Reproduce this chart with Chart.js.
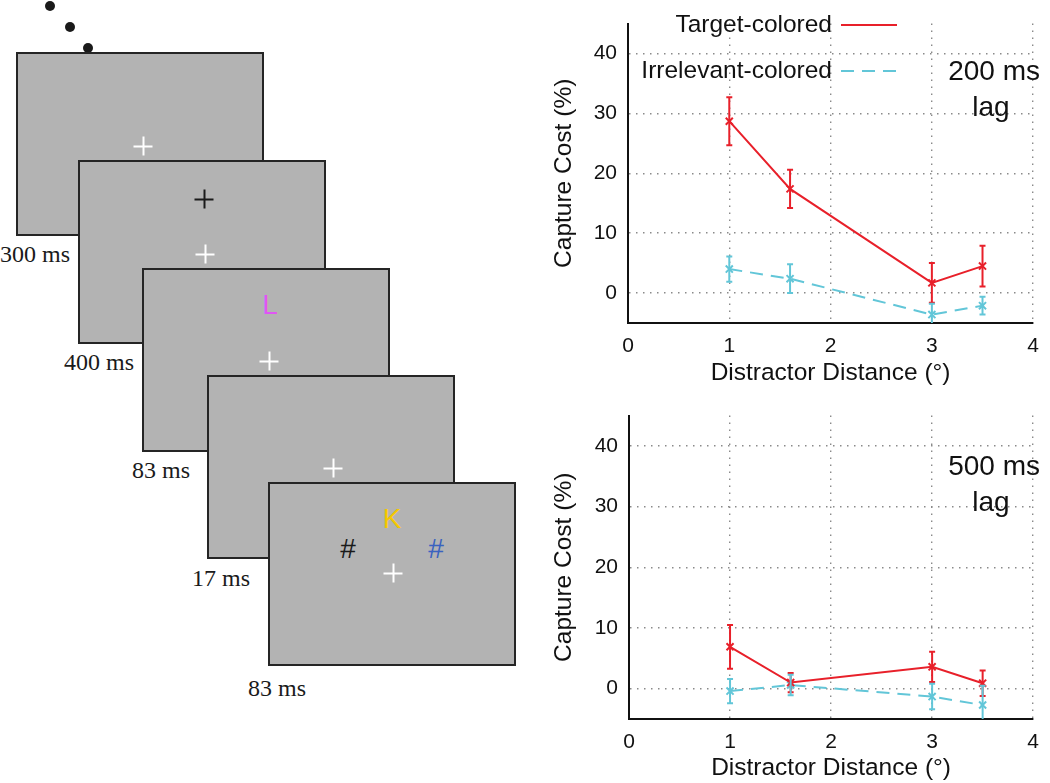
<!DOCTYPE html>
<html>
<head>
<meta charset="utf-8">
<script src="https://cdn.jsdelivr.net/npm/chart.js@4.4.1/dist/chart.umd.min.js"></script>
<style>
  html, body { margin:0; padding:0; background:#fff; }
  body { width:1050px; height:783px; position:relative; overflow:hidden; font-family:'Liberation Sans', Arial, sans-serif; }
  .scr { position:absolute; width:248px; height:184px; box-sizing:border-box; border:2px solid #252525; background:#b3b3b3; }
  .dot { position:absolute; width:10px; height:10px; border-radius:50%; background:#1a1a1a; transform:translate(-50%,-50%); }
  .lbl { position:absolute; font-family:'Liberation Serif', 'Times New Roman', serif; font-size:24px; line-height:24px; color:#1a1a1a; white-space:nowrap; transform:translate(0,-50%); }
  .sym { position:absolute; font-family:'Liberation Sans', Arial, sans-serif; font-size:28px; line-height:28px; transform:translate(-50%,-50%); }
  .cross { position:absolute; width:19px; height:19px; transform:translate(-50%,-50%); }
  .cross::before { content:''; position:absolute; left:0; top:8.5px; width:19px; height:2px; background:var(--c); }
  .cross::after { content:''; position:absolute; top:0; left:8.5px; width:2px; height:19px; background:var(--c); }
  canvas { position:absolute; }
</style>
</head>
<body>
<div id="schematic"></div>
<div style="position:absolute;left:540px;top:0;width:510px;height:392px;"><canvas id="c1"></canvas></div>
<div style="position:absolute;left:540px;top:392px;width:510px;height:391px;"><canvas id="c2"></canvas></div>
<script>
// ---- data ----
const distances = [1, 1.6, 3, 3.5];
const target200 = [28.7, 17.4, 1.7, 4.5];
const target200Err = [4.0, 3.2, 3.3, 3.4];
const irrel200 = [4.0, 2.4, -3.6, -2.1];
const irrel200Err = [2.1, 2.4, 1.8, 1.5];
const target500 = [6.9, 1.0, 3.6, 0.9];
const target500Err = [3.6, 1.6, 2.5, 2.1];
const irrel500 = [-0.4, 0.6, -1.3, -2.7];
const irrel500Err = [2.0, 1.7, 2.1, 3.2];
const xTicks = [0, 1, 2, 3, 4];
const yTicks = [0, 10, 20, 30, 40];
const seriesNames = ['Target-colored', 'Irrelevant-colored'];
const lagLabels = [['200 ms', 'lag'], ['500 ms', 'lag']];
const timeLabels = ['300 ms', '400 ms', '83 ms', '17 ms', '83 ms'];

// ---- schematic (left panel) ----
(function(){
  const s = document.getElementById('schematic');
  const rects = [[16,52],[78,160],[142,268],[207,375],[268,482]];
  const dots = [[50,6],[70,27],[88,48]];
  const lblPos = [[0,254],[64,362],[132,470],[192,578],[248,688]];
  let h = '';
  dots.forEach(d => h += `<div class="dot" style="left:${d[0]}px;top:${d[1]}px"></div>`);
  rects.forEach((r,i) => {
    h += `<div class="scr" style="left:${r[0]}px;top:${r[1]}px"></div>`;
  });
  h += `<div class="cross" style="--c:#fff;left:143px;top:146px"></div>`;
  h += `<div class="cross" style="--c:#1a1a1a;left:204px;top:199px"></div>`;
  h += `<div class="cross" style="--c:#fff;left:205px;top:254px"></div>`;
  h += `<div class="sym" style="color:#e055f5;left:270px;top:305px">L</div>`;
  h += `<div class="cross" style="--c:#fff;left:269px;top:361px"></div>`;
  h += `<div class="cross" style="--c:#fff;left:333px;top:468px"></div>`;
  h += `<div class="sym" style="color:#f5c800;left:392px;top:519px">K</div>`;
  h += `<div class="sym" style="color:#1a1a1a;left:348px;top:549px">#</div>`;
  h += `<div class="sym" style="color:#3a62c0;left:436px;top:549px">#</div>`;
  h += `<div class="cross" style="--c:#fff;left:393px;top:573px"></div>`;
  timeLabels.forEach((t,i) => h += `<div class="lbl" style="left:${lblPos[i][0]}px;top:${lblPos[i][1]}px">${t}</div>`);
  s.innerHTML = h;
})();

// ---- charts ----
const RED = '#e8202a';
const CYAN = '#62c6d8';
const FONT = "'Liberation Sans', Arial, Helvetica, sans-serif";

const errorBarPlugin = {
  id: 'errorBars',
  afterDatasetsDraw(chart) {
    const {ctx, chartArea, scales: {x, y}} = chart;
    ctx.save();
    ctx.beginPath();
    ctx.rect(chartArea.left, chartArea.top - 2, chartArea.right - chartArea.left, chartArea.bottom - chartArea.top + 2);
    ctx.clip();
    chart.data.datasets.forEach(ds => {
      if (!ds.errorBars) return;
      ctx.strokeStyle = ds.borderColor;
      ctx.lineWidth = 2;
      ctx.setLineDash([]);
      ds.data.forEach((p, i) => {
        const px = x.getPixelForValue(p.x);
        const yt = y.getPixelForValue(p.y + ds.errorBars[i]);
        const yb = y.getPixelForValue(p.y - ds.errorBars[i]);
        ctx.beginPath();
        ctx.moveTo(px, yt); ctx.lineTo(px, yb);
        ctx.moveTo(px - 3, yt); ctx.lineTo(px + 3, yt);
        ctx.moveTo(px - 3, yb); ctx.lineTo(px + 3, yb);
        ctx.stroke();
      });
    });
    ctx.restore();
  }
};

const textPlugin = {
  id: 'extraText',
  afterDraw(chart, args, opts) {
    const ctx = chart.ctx;
    ctx.save();
    ctx.fillStyle = '#111';
    ctx.textBaseline = 'middle';
    if (opts.lag) {
      ctx.font = '28px ' + FONT;
      ctx.textAlign = 'right';
      ctx.fillText(opts.lag[0], opts.lagX, opts.lagY);
      ctx.textAlign = 'center';
      ctx.fillText(opts.lag[1], opts.lagX2, opts.lagY + 36);
    }
    if (opts.legend) {
      ctx.font = '24.5px ' + FONT;
      chart.data.datasets.forEach((ds, i) => {
        const ly = opts.legendY[i];
        ctx.textAlign = 'right';
        ctx.fillStyle = '#111';
        ctx.fillText(ds.label, opts.legendTextX, ly);
        ctx.strokeStyle = ds.borderColor;
        ctx.lineWidth = 2;
        ctx.setLineDash(ds.borderDash || []);
        ctx.beginPath();
        ctx.moveTo(opts.legendLineX[0], ly);
        ctx.lineTo(opts.legendLineX[1], ly);
        ctx.stroke();
      });
    }
    ctx.restore();
  }
};

function makeChart(id, tData, tErr, iData, iErr, cfg) {
  const pts = (arr) => distances.map((d, i) => ({x: d, y: arr[i]}));
  return new Chart(document.getElementById(id), {
    type: 'line',
    data: {
      datasets: [
        { label: seriesNames[0], data: pts(tData), errorBars: tErr, borderColor: RED, backgroundColor: RED,
          borderWidth: 2, pointStyle: 'crossRot', pointRadius: 5, pointBorderWidth: 2, pointBorderColor: RED, tension: 0 },
        { label: seriesNames[1], data: pts(iData), errorBars: iErr, borderColor: CYAN, backgroundColor: CYAN,
          borderWidth: 2, borderDash: [13, 8], pointStyle: 'crossRot', pointRadius: 5, pointBorderWidth: 2, pointBorderColor: CYAN, tension: 0 }
      ]
    },
    options: {
      responsive: true, maintainAspectRatio: false, animation: false,
      layout: { padding: { left: 0, right: cfg.padRight, top: cfg.padTop, bottom: 0 } },
      plugins: { legend: { display: false }, tooltip: { enabled: false },
        extraText: cfg.text },
      scales: {
        x: {
          type: 'linear', min: 0, max: 4,
          afterBuildTicks: s => { s.ticks = xTicks.map(v => ({value: v})); },
          afterFit: s => { s.height = cfg.xHeight; },
          ticks: { font: { family: FONT, size: 21 }, color: '#111', padding: 11 },
          grid: { drawTicks: false, color: c => c.tick && c.tick.value === 0 ? 'rgba(0,0,0,0)' : '#8a8a8a', lineWidth: 1.4 },
          border: { display: true, color: '#111', width: 2, dash: [1.5, 5.5] },
          title: { display: true, text: 'Distractor Distance (°)', font: { family: FONT, size: 24.5 }, color: '#111', padding: { top: 0, bottom: cfg.xTitlePad } }
        },
        y: {
          type: 'linear', min: -5, max: 45,
          afterBuildTicks: s => { s.ticks = yTicks.map(v => ({value: v})); },
          afterFit: s => { s.width = cfg.yWidth; },
          ticks: { font: { family: FONT, size: 21 }, color: '#111', padding: 11 },
          grid: { drawTicks: false, color: '#8a8a8a', lineWidth: 1.4 },
          border: { display: true, color: '#111', width: 2, dash: [1.5, 5.5] },
          title: { display: true, text: 'Capture Cost (%)', font: { family: FONT, size: 24.5 }, color: '#111', padding: { top: 10, bottom: 0 } }
        }
      }
    },
    plugins: [errorBarPlugin, textPlugin]
  });
}

makeChart('c1', target200, target200Err, irrel200, irrel200Err, {
  padRight: 10, padTop: 18, xHeight: 69, yWidth: 88, xTitlePad: 4,
  text: { lag: lagLabels[0], lagX: 500, lagY: 72, lagX2: 451,
          legend: true, legendY: [25, 71], legendTextX: 292, legendLineX: [301, 357] }
});
makeChart('c2', target500, target500Err, irrel500, irrel500Err, {
  padRight: 8, padTop: 21, xHeight: 64, yWidth: 89, xTitlePad: 0,
  text: { lag: lagLabels[1], lagX: 500, lagY: 75, lagX2: 451 }
});
</script>
</body>
</html>
